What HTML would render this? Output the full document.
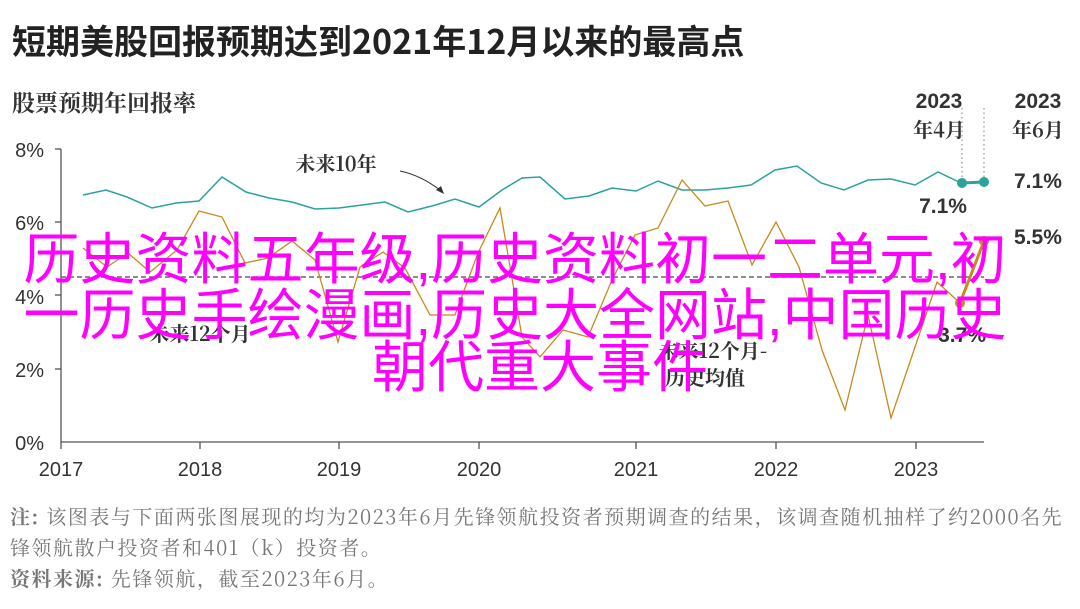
<!DOCTYPE html>
<html><head><meta charset="utf-8"><style>
body{margin:0;width:1080px;height:609px;background:#fff;position:relative;overflow:hidden;font-family:"Liberation Sans","Noto Sans CJK SC",sans-serif;color:#333}
.t{position:absolute;white-space:nowrap}
.m{position:absolute;left:0;width:1080px;text-align:center;color:#ff00ff;font-size:56px;line-height:56px;font-family:"Liberation Sans","Noto Sans CJK SC",sans-serif;white-space:nowrap}
</style></head><body>
<div class="t" style="left:12px;top:20px;font-size:34px;line-height:40px;font-weight:bold;font-family:'Noto Sans CJK SC',sans-serif;color:#222">短期美股回报预期达到2021年12月以来的最高点</div>
<div class="t" style="left:12px;top:86px;font-size:23px;line-height:32px;font-weight:bold;font-family:'Noto Serif CJK SC',serif;color:#333">股票预期年回报率</div>
<svg style="position:absolute;left:0;top:0" width="1080" height="609">
<g font-family="Liberation Sans" font-size="20" fill="#333" text-anchor="end">
<text x="44" y="157">8%</text><text x="44" y="230">6%</text><text x="44" y="304">4%</text><text x="44" y="377">2%</text><text x="44" y="450">0%</text>
</g>
<g stroke="#555" stroke-width="1.3"><line x1="61" y1="149" x2="61" y2="442"/><line x1="61" y1="442" x2="984" y2="442"/>
<line x1="55" y1="149" x2="61" y2="149"/><line x1="55" y1="222" x2="61" y2="222"/><line x1="55" y1="295" x2="61" y2="295"/><line x1="55" y1="369" x2="61" y2="369"/>
<line x1="61" y1="442" x2="61" y2="449"/><line x1="200" y1="442" x2="200" y2="449"/><line x1="339" y1="442" x2="339" y2="449"/><line x1="479" y1="442" x2="479" y2="449"/><line x1="636" y1="442" x2="636" y2="449"/><line x1="776" y1="442" x2="776" y2="449"/><line x1="916" y1="442" x2="916" y2="449"/></g>
<g font-family="Liberation Sans" font-size="20" fill="#333" text-anchor="middle">
<text x="61" y="476">2017</text><text x="200" y="476">2018</text><text x="339" y="476">2019</text><text x="479" y="476">2020</text><text x="636" y="476">2021</text><text x="776" y="476">2022</text><text x="916" y="476">2023</text></g>
<line x1="61" y1="277" x2="984" y2="277" stroke="#666" stroke-width="1.5" stroke-dasharray="5,3"/>
<g stroke="#999" stroke-width="1.3" stroke-dasharray="1.5,3"><line x1="962" y1="108" x2="962" y2="180"/><line x1="984" y1="108" x2="984" y2="180"/></g>
<polyline fill="none" stroke="#2aa39b" stroke-width="1.5" points="83,195 106,190 127,197 152,208 176,203 199,201 222,177 246,192 269,198 292,202 315,209 339,208 362,205 385,202 408,212 432,206 455,199 479,207 502,190 522,178 540,177 565,199 589,196 612,188 636,191 658,181 682,190 705,190 728,188 751,185 775,170 797,166 821,183 844,190 868,180 891,179 915,185 938,172 961,183"/>
<polyline fill="none" stroke="#c8891e" stroke-width="1.3" points="83,248 107,267 128,253 150,272 177,250 199,211 222,217 245,263 268,258 292,241 315,260 338,342 360,267 383,252 405,268 430,315 455,315 478,253 500,208 522,337 540,357 563,330 588,337 612,280 635,235 658,228 682,180 705,206 728,201 752,265 776,222 799,267 822,350 845,410 868,315 891,418 913,353 937,282 960,303"/>
<line x1="962" y1="183" x2="984" y2="182" stroke="#2aa39b" stroke-width="3"/>
<circle cx="962" cy="183" r="5" fill="#2aa39b"/><circle cx="984" cy="182" r="5" fill="#2aa39b"/>
<line x1="960" y1="303" x2="984" y2="241" stroke="#c8891e" stroke-width="3"/>
<circle cx="960" cy="303" r="5" fill="#c8891e"/><circle cx="984" cy="241" r="5" fill="#c8891e"/>
<g font-family="Liberation Sans" font-size="21" font-weight="bold" fill="#333">
<text x="1014" y="188">7.1%</text><text x="1014" y="244">5.5%</text><text x="943" y="213" text-anchor="middle">7.1%</text><text x="986" y="342" text-anchor="end">3.7%</text></g>
<g font-family="Liberation Sans" font-size="21" font-weight="bold" fill="#333" text-anchor="middle">
<text x="939" y="108">2023</text><text x="1038" y="108">2023</text></g>
<g font-family="'Noto Serif CJK SC',serif" font-size="20" font-weight="bold" fill="#333" text-anchor="middle">
<text x="939" y="137">年4月</text><text x="1038" y="137">年6月</text>
<text x="336" y="171">未来10年</text><text x="200" y="341">未来12个月</text><text x="713" y="358">未来12个月-</text><text x="705" y="385">历史均值</text></g>
<path d="M400,171 Q420,175 440,190" fill="none" stroke="#333" stroke-width="1"/><polygon points="444,194 436,190 441,186" fill="#333"/>
</svg>
<div class="m" style="top:232px;left:-25px">历史资料五年级,历史资料初一二单元,初</div>
<div class="m" style="top:288px;left:-25px">一历史手绘漫画,历史大全网站,中国历史</div>
<div class="m" style="top:340px;left:0">朝代重大事件</div>
<div class="t" style="left:10px;top:500px;font-size:20px;letter-spacing:1.5px;line-height:31px;color:#777;font-family:'Noto Serif CJK SC',serif"><b>注:</b> 该图表与下面两张图展现的均为2023年6月先锋领航投资者预期调查的结果，该调查随机抽样了约2000名先<br>锋领航散户投资者和401（k）投资者。<br><b>资料来源:</b> 先锋领航，截至2023年6月。</div>
</body></html>
